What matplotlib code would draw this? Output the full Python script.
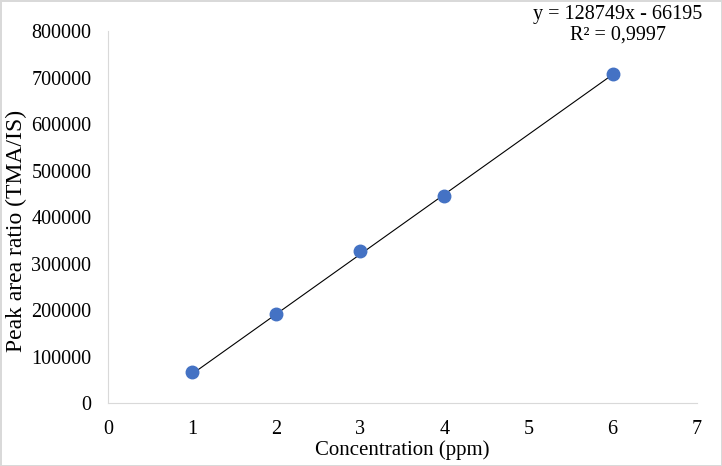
import numpy as np
import matplotlib
matplotlib.use("Agg")
import matplotlib.pyplot as plt

concentration = [1, 2, 3, 4, 6]
peak_ratio = [67000, 191000, 326000, 445000, 708000]
slope = 128749
intercept = -66195
equation = "y = 128749x - 66195\nR² = 0,9997"

plt.rcParams['font.family'] = ['Liberation Serif', 'DejaVu Serif']

fig = plt.figure(figsize=(7.22, 4.66), dpi=100)
fig.patch.set_edgecolor('#d9d9d9')
fig.patch.set_linewidth(2)
ax = fig.add_axes([0.1496, 0.135, 0.8154, 0.7985])

fit_x = np.array([concentration[0], concentration[-1]])
ax.plot(fit_x, slope * fit_x + intercept, color='black', linewidth=0.8, zorder=2)
ax.plot(concentration, peak_ratio, 'o', color='#4472C4', markersize=9, zorder=3)

ax.set_xlim(0, 7)
ax.set_ylim(0, 800000)
ax.set_xticks(range(0, 8))
ax.set_yticks(range(0, 800001, 100000))
ax.tick_params(length=0, labelsize=14.5)
ax.tick_params(axis='y', pad=12)
ax.tick_params(axis='x', pad=12)
for s in ['top', 'right']:
    ax.spines[s].set_visible(False)
for s in ['left', 'bottom']:
    ax.spines[s].set_color('#d9d9d9')
ax.set_xlabel('Concentration (ppm)', fontsize=15, labelpad=1)

# y label placed by hand, a bit larger and lower than the axes centre
fig.text(16 / 722, 1 - 231 / 466, 'Peak area ratio (TMA/IS)', rotation=90,
         ha='center', va='center', fontsize=17)

fig.text(0.856, 0.99, equation, ha='center', va='top', fontsize=14.5, linespacing=1.1)

fig.savefig('out.png', dpi=100)
